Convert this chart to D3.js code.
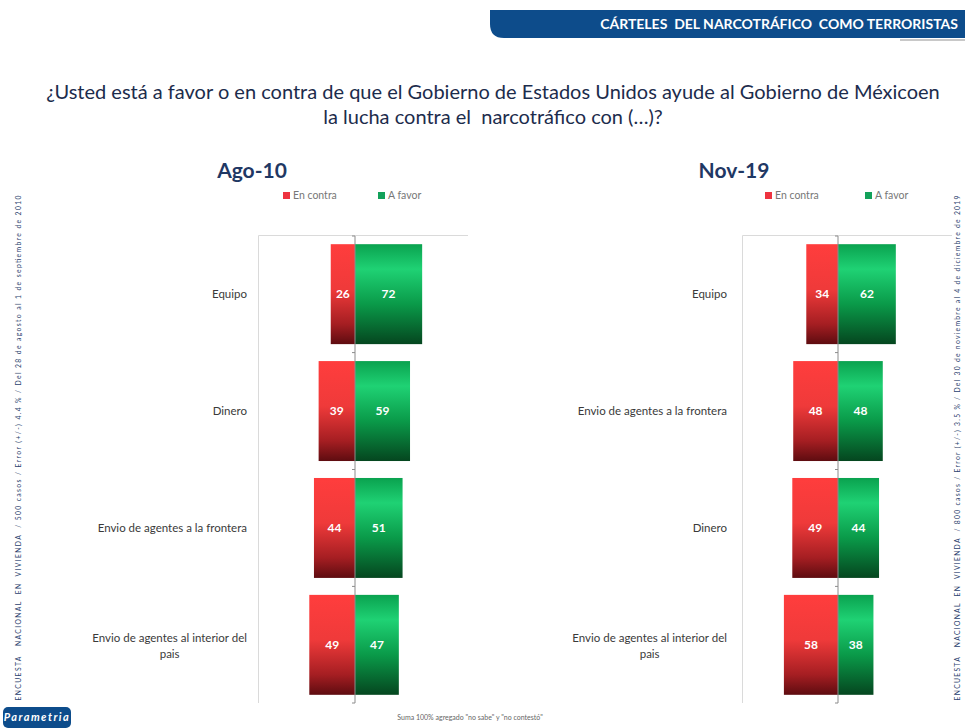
<!DOCTYPE html>
<html>
<head>
<meta charset="utf-8">
<script src="https://cdn.jsdelivr.net/npm/d3@7"></script>
<style>
  body { margin: 0; background: #fff; }
  svg { display: block; font-family: Lato, "Open Sans", sans-serif; }
</style>
</head>
<body>
<svg id="chart" width="965" height="728"></svg>
<script>
// data
var headerText = "CÁRTELES  DEL NARCOTRÁFICO  COMO TERRORISTAS";
var questionLines = ["¿Usted está a favor o en contra de que el Gobierno de Estados Unidos ayude al Gobierno de Méxicoen",
                     "la lucha contra el  narcotráfico con (…)?"];
var seriesNames = ["En contra", "A favor"];
var periods = ["Ago-10", "Nov-19"];

var categoriesAgo = ["Equipo", "Dinero", "Envio de agentes a la frontera", "Envio de agentes al interior del|pais"];
var contraAgo = [26, 39, 44, 49];
var favorAgo = [72, 59, 51, 47];

var categoriesNov = ["Equipo", "Envio de agentes a la frontera", "Dinero", "Envio de agentes al interior del|pais"];
var contraNov = [34, 48, 49, 58];
var favorNov = [62, 48, 44, 38];

var sideNotes = ["ENCUESTA   NACIONAL  EN  VIVIENDA  / 500 casos / Error (+/-) 4.4 % / Del 28 de agosto al 1 de septiembre de 2010",
                 "ENCUESTA   NACIONAL  EN  VIVIENDA  / 800 casos / Error (+/-) 3.5 % / Del 30 de noviembre al 4 de diciembre de 2019"];
var footNote = "Suma 100% agregado \"no sabe\" y \"no contestó\"";

var svg = d3.select("#chart");
var defs = svg.append("defs");

// gradients like the excel bars
var rg = defs.append("linearGradient").attr("id", "gRed").attr("x1", 0).attr("x2", 0).attr("y1", 0).attr("y2", 1);
rg.append("stop").attr("offset", "0%").attr("stop-color", "#ff3d3d");
rg.append("stop").attr("offset", "45%").attr("stop-color", "#ef3a3a");
rg.append("stop").attr("offset", "80%").attr("stop-color", "#a51e22");
rg.append("stop").attr("offset", "100%").attr("stop-color", "#5e0c10");
var gg = defs.append("linearGradient").attr("id", "gGreen").attr("x1", 0).attr("x2", 0).attr("y1", 0).attr("y2", 1);
gg.append("stop").attr("offset", "0%").attr("stop-color", "#0aa24f");
gg.append("stop").attr("offset", "25%").attr("stop-color", "#1fd274");
gg.append("stop").attr("offset", "60%").attr("stop-color", "#0a9a49");
gg.append("stop").attr("offset", "100%").attr("stop-color", "#05461f");

var navy = "#0d4c8b";

// header band
svg.append("path")
  .attr("d", "M490,10 H965 V38 H504 Q490,38 490,24 Z")
  .attr("fill", navy);
svg.append("text").attr("x", 958).attr("y", 29).attr("text-anchor", "end")
  .attr("fill", "#fff").attr("font-weight", "bold").attr("font-size", 14)
  .style("white-space", "pre").text(headerText);
svg.append("rect").attr("x", 900).attr("y", 39).attr("width", 65).attr("height", 2).attr("fill", "#c8c8c8");

// question
svg.append("text").attr("x", 493).attr("y", 99).attr("text-anchor", "middle")
  .attr("fill", "#1c2c4c").attr("font-size", 20).text(questionLines[0]);
svg.append("text").attr("x", 493).attr("y", 124).attr("text-anchor", "middle")
  .attr("fill", "#1c2c4c").attr("font-size", 20).style("white-space", "pre").text(questionLines[1]);

function panel(opts) {
  var plotLeft = opts.plotLeft, cx = opts.cx;
  var x = d3.scaleLinear().domain([-104, 104]).range([cx - 97, cx + 97]);
  var y = d3.scaleBand().domain(opts.categories).range([236, 703])
    .paddingInner(0.145).paddingOuter(0.07);
  var g = svg.append("g");

  // title
  g.append("text").attr("x", opts.titleX).attr("y", 178).attr("text-anchor", "middle")
    .attr("fill", "#1f3864").attr("font-weight", "bold").attr("font-size", 21).text(opts.title);

  // legend
  var lg = g.append("g").attr("transform", "translate(" + opts.legendX + ",197)");
  seriesNames.forEach(function (s, i) {
    var it = lg.append("g").attr("transform", "translate(" + (i * opts.legendGap) + ",0)");
    it.append("rect").attr("x", 0).attr("y", -5).attr("width", 7).attr("height", 7)
      .attr("fill", i === 0 ? "#ee3340" : "#13a15a");
    it.append("text").attr("x", 10).attr("y", 2).attr("font-size", 10.5).attr("fill", "#777").text(s);
  });

  // plot area border (left & top)
  g.append("path").attr("d", "M" + (plotLeft + 0.5) + ",703 V235.5 H" + (plotLeft + 210))
    .attr("fill", "none").attr("stroke", "#dadada");

  // bars
  var rows = opts.categories.map(function (c, i) {
    return { cat: c, contra: opts.contra[i], favor: opts.favor[i] };
  });
  var bars = g.selectAll("g.row").data(rows).join("g").attr("class", "row");
  bars.append("rect")
    .attr("x", function (d) { return x(-d.contra); })
    .attr("y", function (d) { return y(d.cat); })
    .attr("width", function (d) { return x(0) - x(-d.contra); })
    .attr("height", y.bandwidth())
    .attr("fill", "url(#gRed)");
  bars.append("rect")
    .attr("x", x(0))
    .attr("y", function (d) { return y(d.cat); })
    .attr("width", function (d) { return x(d.favor) - x(0); })
    .attr("height", y.bandwidth())
    .attr("fill", "url(#gGreen)");
  bars.append("text")
    .attr("x", function (d) { return (x(-d.contra) + x(0)) / 2; })
    .attr("y", function (d) { return y(d.cat) + y.bandwidth() / 2 + 4; })
    .attr("text-anchor", "middle").attr("fill", "#fff").attr("font-size", 12).attr("font-weight", "bold")
    .text(function (d) { return d.contra; });
  bars.append("text")
    .attr("x", function (d) { return (x(d.favor) + x(0)) / 2; })
    .attr("y", function (d) { return y(d.cat) + y.bandwidth() / 2 + 4; })
    .attr("text-anchor", "middle").attr("fill", "#fff").attr("font-size", 12).attr("font-weight", "bold")
    .text(function (d) { return d.favor; });

  // category axis through zero
  g.append("line").attr("x1", x(0)).attr("x2", x(0)).attr("y1", 236).attr("y2", 703)
    .attr("stroke", "#8c8c8c").attr("stroke-width", 1);
  var bounds = opts.categories.map(function (c) { return y(c) - y.step() * y.paddingInner() / 2; });
  bounds[0] = y.range()[0];
  bounds.push(y.range()[1]);
  g.selectAll("line.tk").data(bounds).join("line").attr("class", "tk")
    .attr("x1", x(0) - 3).attr("x2", x(0)).attr("y1", function (d) { return d; }).attr("y2", function (d) { return d; })
    .attr("stroke", "#8c8c8c");

  // category labels
  var labelRight = plotLeft - opts.labelGap;
  rows.forEach(function (d) {
    var parts = d.cat.split("|");
    var cy = y(d.cat) + y.bandwidth() / 2;
    if (parts.length === 1) {
      g.append("text").attr("x", labelRight).attr("y", cy + 4).attr("text-anchor", "end")
        .attr("font-size", 11.5).attr("fill", "#3a3a3a").text(parts[0]);
    } else {
      var t1 = g.append("text").attr("y", cy - 3).attr("text-anchor", "middle")
        .attr("font-size", 11.5).attr("fill", "#3a3a3a").text(parts[0]);
      var w = t1.node().getComputedTextLength();
      var mid = labelRight - w / 2;
      t1.attr("x", mid);
      g.append("text").attr("x", mid).attr("y", cy + 13).attr("text-anchor", "middle")
        .attr("font-size", 11.5).attr("fill", "#3a3a3a").text(parts[1]);
    }
  });
}

panel({ title: periods[0], titleX: 252, legendX: 283, legendGap: 95, plotLeft: 258, cx: 355, labelGap: 11,
        categories: categoriesAgo, contra: contraAgo, favor: favorAgo });
panel({ title: periods[1], titleX: 734, legendX: 765, legendGap: 100, plotLeft: 742, cx: 838, labelGap: 15,
        categories: categoriesNov, contra: contraNov, favor: favorNov });

// side notes (vertical)
svg.append("text").attr("transform", "translate(21,448) rotate(-90)")
  .attr("text-anchor", "middle").attr("font-size", 6.8).attr("fill", "#2b3f6e")
  .attr("textLength", 505).attr("lengthAdjust", "spacing").style("white-space", "pre").text(sideNotes[0]);
svg.append("text").attr("transform", "translate(960,448) rotate(-90)")
  .attr("text-anchor", "middle").attr("font-size", 6.8).attr("fill", "#2b3f6e")
  .attr("textLength", 505).attr("lengthAdjust", "spacing").style("white-space", "pre").text(sideNotes[1]);

// logo + footnote
svg.append("rect").attr("x", 3).attr("y", 707).attr("width", 68).attr("height", 21).attr("rx", 5).attr("fill", navy);
svg.append("text").attr("x", 37).attr("y", 721).attr("text-anchor", "middle").attr("fill", "#fff")
  .attr("font-size", 11).attr("font-style", "italic").attr("font-weight", "bold").attr("letter-spacing", 1.5)
  .text("Parametria");
svg.append("text").attr("x", 470).attr("y", 720).attr("text-anchor", "middle").attr("fill", "#666")
  .attr("font-size", 7).text(footNote);
</script>
</body>
</html>
